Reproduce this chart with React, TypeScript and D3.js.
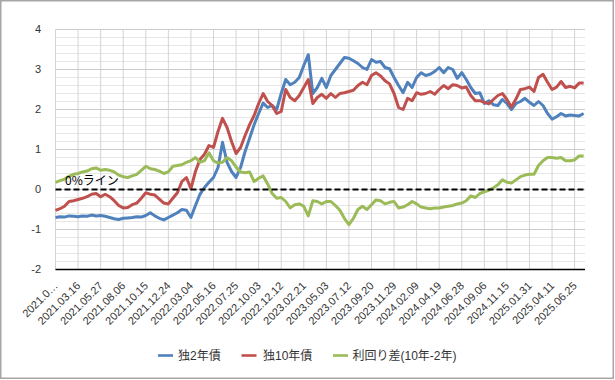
import React from "react";
import * as d3 from "d3";

// Category labels shown every 50 trading days
const tickLabels = [
  "2021.0…", "2021.03.16", "2021.05.27", "2021.08.06", "2021.10.15", "2021.12.24",
  "2022.03.04", "2022.05.16", "2022.07.25", "2022.10.03", "2022.12.12", "2023.02.21",
  "2023.05.03", "2023.07.12", "2023.09.20", "2023.11.29", "2024.02.09", "2024.04.19",
  "2024.06.28", "2024.09.06", "2024.11.15", "2025.01.31", "2025.04.11", "2025.06.25",
];
const yTicks = [4, 3, 2, 1, 0, -1, -2];

// Sampled every 10 trading days
const bund2y = [
  -0.70, -0.68, -0.69, -0.66, -0.67, -0.68, -0.66, -0.67, -0.64, -0.66,
  -0.65, -0.67, -0.70, -0.73, -0.75, -0.72, -0.71, -0.70, -0.68, -0.69,
  -0.65, -0.58, -0.66, -0.72, -0.76, -0.70, -0.64, -0.58, -0.50, -0.52,
  -0.70, -0.40, -0.12, 0.05, 0.18, 0.30, 0.55, 1.18, 0.68, 0.45,
  0.30, 0.55, 0.95, 1.28, 1.62, 1.90, 2.16, 2.05, 2.10, 2.00,
  2.40, 2.75, 2.62, 2.68, 2.80, 3.10, 3.37, 2.40, 2.55, 2.78,
  2.55, 2.85, 3.00, 3.15, 3.30, 3.28, 3.22, 3.15, 3.05, 3.00,
  3.25, 3.18, 3.20, 3.05, 3.02, 2.80, 2.60, 2.42, 2.68, 2.55,
  2.80, 2.92, 2.85, 2.88, 2.95, 3.05, 2.92, 3.05, 3.00, 2.78,
  2.92, 2.75, 2.55, 2.40, 2.42, 2.15, 2.22, 2.12, 2.10, 2.25,
  2.15, 2.00, 2.15, 2.20, 2.28, 2.18, 2.10, 2.20, 2.10, 1.90,
  1.76, 1.82, 1.90, 1.84, 1.86, 1.85, 1.84, 1.90,
];
const bund10y = [
  -0.52, -0.48, -0.42, -0.30, -0.28, -0.25, -0.22, -0.18, -0.12, -0.10,
  -0.18, -0.12, -0.18, -0.28, -0.40, -0.46, -0.45, -0.38, -0.34, -0.22,
  -0.08, -0.12, -0.14, -0.24, -0.34, -0.36, -0.22, -0.08, 0.20, 0.30,
  0.02, 0.45, 0.75, 0.88, 1.10, 1.05, 1.45, 1.78, 1.55, 1.20,
  0.90, 1.05, 1.35, 1.62, 1.85, 2.15, 2.40, 2.20, 2.10, 1.90,
  1.95, 2.50, 2.30, 2.22, 2.35, 2.55, 2.75, 2.15, 2.30, 2.38,
  2.28, 2.40, 2.30, 2.40, 2.42, 2.45, 2.48, 2.60, 2.68, 2.62,
  2.85, 2.92, 2.84, 2.72, 2.64, 2.40, 2.05, 2.00, 2.28, 2.22,
  2.42, 2.38, 2.40, 2.45, 2.38, 2.50, 2.60, 2.52, 2.62, 2.60,
  2.54, 2.56, 2.35, 2.22, 2.22, 2.18, 2.14, 2.25, 2.35, 2.40,
  2.25, 2.06, 2.26, 2.50, 2.52, 2.56, 2.45, 2.80, 2.88, 2.68,
  2.50, 2.56, 2.70, 2.55, 2.58, 2.54, 2.66, 2.66,
];
const spread = [
  0.18, 0.22, 0.26, 0.33, 0.38, 0.40, 0.44, 0.46, 0.52, 0.54,
  0.48, 0.50, 0.48, 0.44, 0.36, 0.32, 0.30, 0.34, 0.38, 0.48,
  0.58, 0.52, 0.50, 0.46, 0.40, 0.44, 0.58, 0.60, 0.62, 0.68,
  0.72, 0.80, 0.68, 0.72, 0.92, 0.72, 0.66, 0.68, 0.80, 0.72,
  0.56, 0.44, 0.42, 0.44, 0.20, 0.28, 0.34, 0.14, -0.10, -0.22,
  -0.20, -0.30, -0.46, -0.38, -0.36, -0.42, -0.66, -0.28, -0.30, -0.36,
  -0.30, -0.30, -0.40, -0.52, -0.72, -0.88, -0.72, -0.50, -0.42, -0.50,
  -0.38, -0.26, -0.28, -0.36, -0.32, -0.30, -0.46, -0.44, -0.38, -0.30,
  -0.36, -0.44, -0.46, -0.48, -0.46, -0.46, -0.44, -0.42, -0.40, -0.36,
  -0.34, -0.28, -0.16, -0.20, -0.10, -0.06, -0.02, 0.04, 0.12, 0.24,
  0.18, 0.16, 0.24, 0.32, 0.36, 0.38, 0.38, 0.60, 0.72, 0.80,
  0.80, 0.78, 0.80, 0.72, 0.72, 0.74, 0.84, 0.84,
];

const seriesNames = ["独2年債", "独10年債", "利回り差(10年-2年)"];
const colors = ["#4F81BD", "#C0504D", "#9BBB59"];
const zeroLabel = "0%ライン";

const SAMPLE_STEP = 10;
const LABEL_STEP = 50;
const TOTAL_DAYS = 1173;

const FONT = "'Liberation Sans', Arial, 'Noto Sans CJK JP', sans-serif";

export default function App() {
  const W = 615, H = 380;
  const left = 55.5, right = 585, top = 29.5, bottom = 269.5;
  const x = d3.scaleLinear().domain([0, TOTAL_DAYS]).range([left, right]);
  const y = d3.scaleLinear().domain([-2, 4]).range([bottom, top]);

  const line = d3
    .line<number>()
    .x((_, i) => x(i * SAMPLE_STEP))
    .y((d) => y(d));

  const minorTicks = d3.range(-2, 4.0001, 0.2).filter((v) => Math.abs(v - Math.round(v)) > 1e-6);
  const series = [bund2y, bund10y, spread];

  const legendItems = [
    { lx: 158, tx: 178 },
    { lx: 241.5, tx: 263 },
    { lx: 333, tx: 352.5 },
  ];

  return (
    <svg width={W} height={H} style={{ position: "absolute", left: 0, top: 0, fontFamily: FONT }}>
      <rect x={0} y={0} width={W} height={H} fill="#fff" />
      <rect x={0.75} y={0.75} width={612.5} height={377.5} fill="none" stroke="#a6a6a6" strokeWidth={1.5} />
      {/* minor gridlines */}
      {minorTicks.map((v, i) => (
        <line key={"mn" + i} x1={left} x2={right} y1={y(v)} y2={y(v)} stroke="#e6e6e6" strokeWidth={1} />
      ))}
      {/* vertical gridlines */}
      {tickLabels.map((_, i) => (
        <line key={"vg" + i} x1={x(i * LABEL_STEP)} x2={x(i * LABEL_STEP)} y1={top} y2={bottom} stroke="#d4d4d4" strokeWidth={1} />
      ))}
      {/* major gridlines */}
      {yTicks.map((v) => (
        <line key={"mj" + v} x1={left} x2={right} y1={y(v)} y2={y(v)} stroke="#cccccc" strokeWidth={1} />
      ))}
      {/* y labels */}
      {yTicks.map((v) => (
        <text key={"yl" + v} x={41} y={y(v)} dy="0.35em" textAnchor="end" fontSize={11} fill="#333">
          {v}
        </text>
      ))}
      {/* x axis line */}
      <line x1={left} x2={right} y1={bottom} y2={bottom} stroke="#000" strokeWidth={1.5} />
      {/* x labels */}
      {tickLabels.map((t, i) => {
        const ax = x(i * LABEL_STEP) + 3;
        const ay = bottom + 17;
        return (
          <text key={"xl" + i} x={ax} y={ay} textAnchor="end" fontSize={11} fill="#333" transform={`rotate(-45 ${ax} ${ay})`}>
            {t}
          </text>
        );
      })}
      {/* series */}
      {series.map((s, i) => (
        <path key={"s" + i} d={line(s) || ""} fill="none" stroke={colors[i]} strokeWidth={3} strokeLinejoin="round" />
      ))}
      {/* zero line */}
      <line x1={left} x2={right} y1={y(0)} y2={y(0)} stroke="#000" strokeWidth={2} strokeDasharray="6,3" />
      <text x={65} y={185} fontSize={12} fill="#000" fontFamily="'Noto Sans CJK JP', sans-serif">
        {zeroLabel}
      </text>
      {/* legend */}
      {legendItems.map((it, i) => (
        <g key={"lg" + i}>
          <line x1={it.lx} x2={it.lx + 15} y1={355.5} y2={355.5} stroke={colors[i]} strokeWidth={2.6} />
          <text x={it.tx} y={355.5} dy="0.35em" fontSize={12} fill="#333">
            {seriesNames[i]}
          </text>
        </g>
      ))}
    </svg>
  );
}
